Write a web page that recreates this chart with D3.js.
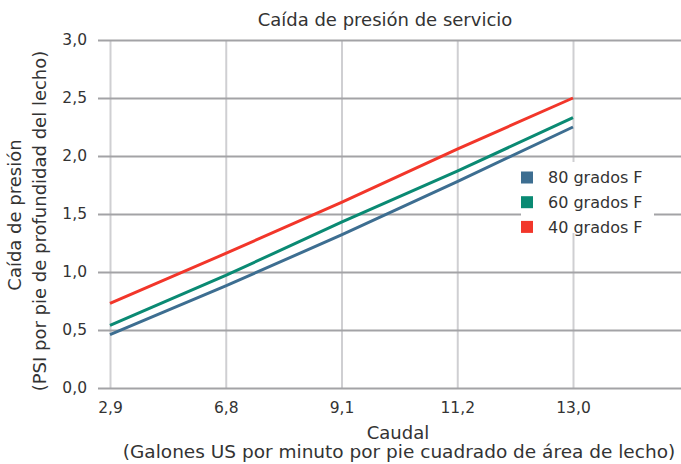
<!DOCTYPE html>
<html>
<head>
<meta charset="utf-8">
<script src="https://cdn.jsdelivr.net/npm/d3@7"></script>
<style>
  html, body { margin: 0; padding: 0; background: #fff; }
  svg { display: block; font-family: "DejaVu Sans", Verdana, sans-serif; }
</style>
</head>
<body>
<div id="chart"></div>
<script>
// Caída de presión de servicio — three temperature series over flow categories.
var categories = ['2,9', '6,8', '9,1', '11,2', '13,0'];
var yTicks = [0, 0.5, 1.0, 1.5, 2.0, 2.5, 3.0];

var s80 = [0.46, 0.88, 1.32, 1.78, 2.25];
var s60 = [0.54, 0.97, 1.43, 1.87, 2.33];
var s40 = [0.73, 1.16, 1.60, 2.06, 2.50];

var seriesNames = ['80 grados F', '60 grados F', '40 grados F'];
var seriesColors = ['#3d6e91', '#0a8a73', '#f2362a'];
var seriesValues = [s80, s60, s40];

(function () {
    var W = 681, H = 464;
    var left = 98, top = 40, bottom = 388;
    var xFirst = 110, xLast = 573;
    var font = '"DejaVu Sans", Verdana, sans-serif';

    var svg = d3.select('#chart').append('svg')
        .attr('width', W).attr('height', H)
        .attr('viewBox', '0 0 ' + W + ' ' + H);

    var x = d3.scalePoint().domain(categories).range([xFirst, xLast]);
    var y = d3.scaleLinear().domain([0, 3]).range([bottom, top]);

    // vertical gridlines (lighter)
    var gx = svg.append('g')
        .attr('transform', 'translate(0,' + bottom + ')')
        .call(d3.axisBottom(x).tickSize(-(bottom - top)).tickPadding(14));
    gx.select('.domain').remove();
    gx.selectAll('.tick line').attr('stroke', '#cfcfd2').attr('stroke-width', 2);
    gx.selectAll('.tick text')
        .attr('fill', '#333').attr('font-size', 15.5).attr('font-family', font);

    // horizontal gridlines (darker)
    var gy = svg.append('g')
        .attr('transform', 'translate(' + left + ',0)')
        .call(d3.axisLeft(y).tickValues(yTicks)
            .tickFormat(function (d) { return d3.format('.1f')(d).replace('.', ','); })
            .tickSize(-(W - left)).tickPadding(11));
    gy.select('.domain').remove();
    gy.selectAll('.tick line').attr('stroke', '#a3a3a6').attr('stroke-width', 2);
    gy.selectAll('.tick text')
        .attr('fill', '#333').attr('font-size', 15.5).attr('font-family', font);

    // series lines
    var line = d3.line()
        .x(function (d, i) { return x(categories[i]); })
        .y(function (d) { return y(d); });
    seriesValues.forEach(function (vals, k) {
        svg.append('path')
            .datum(vals)
            .attr('fill', 'none')
            .attr('stroke', seriesColors[k])
            .attr('stroke-width', 3)
            .attr('d', line);
    });

    // legend with white backing
    var lg = svg.append('g');
    lg.append('rect')
        .attr('x', 521).attr('y', 162).attr('width', 133).attr('height', 71)
        .attr('fill', '#fff');
    seriesNames.forEach(function (name, k) {
        var cy = 177.5 + k * 24.7;
        lg.append('rect')
            .attr('x', 521).attr('y', cy - 6).attr('width', 12).attr('height', 12)
            .attr('fill', seriesColors[k]);
        lg.append('text')
            .attr('x', 548).attr('y', cy).attr('dy', '0.35em')
            .attr('font-size', 16).attr('fill', '#333')
            .text(name);
    });

    // titles
    svg.append('text')
        .attr('x', 385).attr('y', 20).attr('dy', '0.35em')
        .attr('text-anchor', 'middle').attr('font-size', 18).attr('fill', '#333')
        .text('Caída de presión de servicio');

    svg.append('text')
        .attr('x', 398).attr('y', 433).attr('dy', '0.35em')
        .attr('text-anchor', 'middle').attr('font-size', 18).attr('fill', '#333')
        .text('Caudal');
    svg.append('text')
        .attr('x', 399).attr('y', 452).attr('dy', '0.35em')
        .attr('text-anchor', 'middle').attr('font-size', 18.5).attr('fill', '#333')
        .text('(Galones US por minuto por pie cuadrado de área de lecho)');

    svg.append('text')
        .attr('transform', 'translate(15,215) rotate(-90)')
        .attr('dy', '0.35em')
        .attr('text-anchor', 'middle').attr('font-size', 18).attr('fill', '#333')
        .text('Caída de presión');
    svg.append('text')
        .attr('transform', 'translate(40,221) rotate(-90)')
        .attr('dy', '0.35em')
        .attr('text-anchor', 'middle').attr('font-size', 18).attr('fill', '#333')
        .text('(PSI por pie de profundidad del lecho)');
})();
</script>
</body>
</html>
